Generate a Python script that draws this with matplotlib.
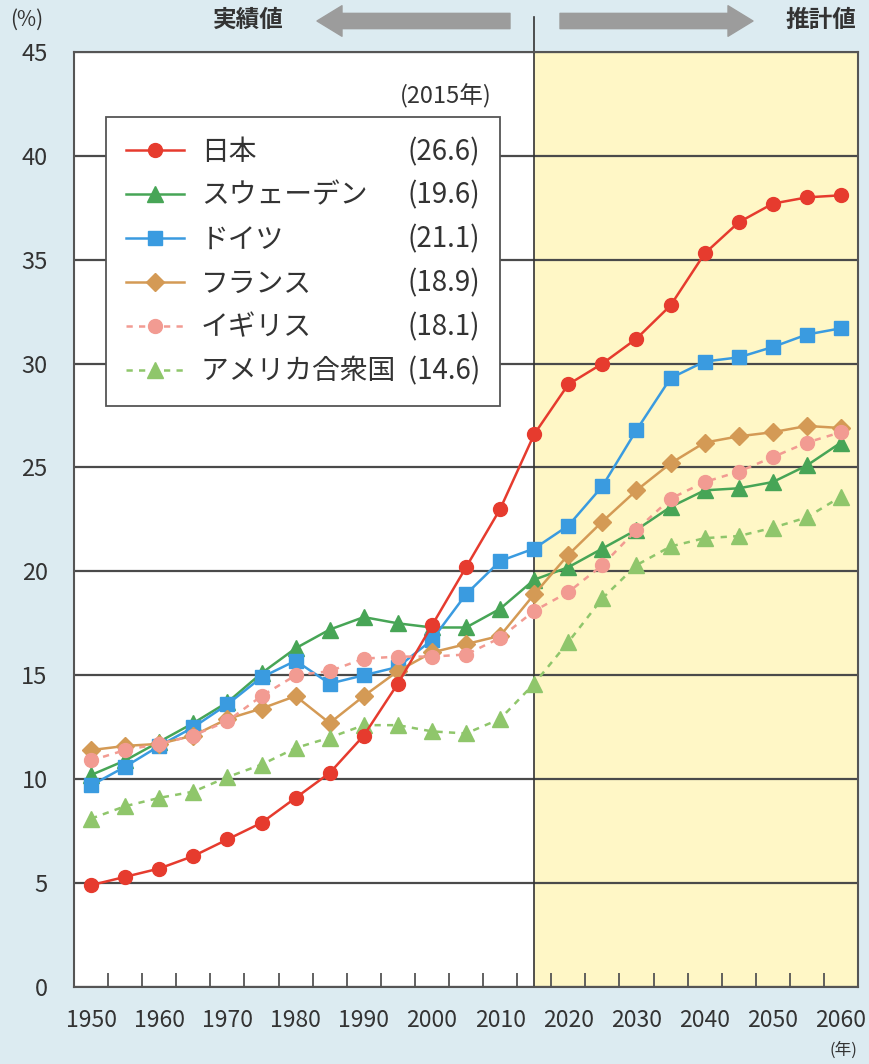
"""Elderly population ratio (65+) by country, 1950-2060, actual vs. projected."""

import matplotlib
matplotlib.use("Agg")
import matplotlib.pyplot as plt
from matplotlib.ticker import FixedLocator, MultipleLocator

plt.rcParams["font.family"] = ["Noto Sans CJK JP", "DejaVu Sans"]

YEARS = list(range(1950, 2061, 5))

JAPAN = [4.9, 5.3, 5.7, 6.3, 7.1, 7.9, 9.1, 10.3, 12.1, 14.6, 17.4, 20.2, 23.0,
         26.6, 29.0, 30.0, 31.2, 32.8, 35.3, 36.8, 37.7, 38.0, 38.1]
SWEDEN = [10.2, 10.9, 11.8, 12.7, 13.7, 15.1, 16.3, 17.2, 17.8, 17.5, 17.3, 17.3, 18.2,
          19.6, 20.2, 21.1, 22.0, 23.1, 23.9, 24.0, 24.3, 25.1, 26.2]
GERMANY = [9.7, 10.6, 11.6, 12.5, 13.6, 14.9, 15.7, 14.6, 15.0, 15.4, 16.7, 18.9, 20.5,
           21.1, 22.2, 24.1, 26.8, 29.3, 30.1, 30.3, 30.8, 31.4, 31.7]
FRANCE = [11.4, 11.6, 11.7, 12.1, 12.9, 13.4, 14.0, 12.7, 14.0, 15.2, 16.1, 16.5, 16.9,
          18.9, 20.8, 22.4, 23.9, 25.2, 26.2, 26.5, 26.7, 27.0, 26.9]
UK = [10.9, 11.4, 11.7, 12.1, 12.8, 14.0, 15.0, 15.2, 15.8, 15.9, 15.9, 16.0, 16.8,
      18.1, 19.0, 20.3, 22.0, 23.5, 24.3, 24.8, 25.5, 26.2, 26.7]
USA = [8.1, 8.7, 9.1, 9.4, 10.1, 10.7, 11.5, 12.0, 12.6, 12.6, 12.3, 12.2, 12.9,
       14.6, 16.6, 18.7, 20.3, 21.2, 21.6, 21.7, 22.1, 22.6, 23.6]

NAMES = ["日本", "スウェーデン", "ドイツ", "フランス", "イギリス", "アメリカ合衆国"]
VALUES_2015 = ["(26.6)", "(19.6)", "(21.1)", "(18.9)", "(18.1)", "(14.6)"]
SPLIT_YEAR = 2015

BG = "#dcebf1"
TXT = "#333333"

fig = plt.figure(figsize=(8.69, 10.64), dpi=100, facecolor=BG)
ax = fig.add_axes([0.0852, 0.0724, 0.9022, 0.8788])
ax.set_facecolor("white")

ax.set_xlim(YEARS[0] - 2.5, YEARS[-1] + 2.5)
ax.set_ylim(0, 45)

# projection period shaded, with a divider running up into the header
ax.axvspan(SPLIT_YEAR, YEARS[-1] + 2.5, color="#fff7c6", zorder=0, lw=0)
ax.plot([SPLIT_YEAR, SPLIT_YEAR], [0, 1.037], transform=ax.get_xaxis_transform(),
        color="#333333", lw=1.2, clip_on=False, zorder=1)

ax.yaxis.set_major_locator(MultipleLocator(5))
ax.grid(axis="y", color="#4a4a4a", lw=1.6, zorder=1)
ax.set_axisbelow(True)

ax.xaxis.set_major_locator(FixedLocator(YEARS[::2]))
ax.xaxis.set_minor_locator(FixedLocator([y + 2.5 for y in YEARS[:-1]]))
ax.tick_params(axis="x", which="major", length=0, pad=16, labelsize=16.5, labelcolor=TXT)
ax.tick_params(axis="x", which="minor", direction="in", length=10, width=1.3, color="#555555")
ax.tick_params(axis="y", length=0, pad=19, labelsize=17, labelcolor=TXT)
for s in ax.spines.values():
    s.set_color("#555555")
    s.set_linewidth(1.5)

series = [
    (JAPAN, "#e63b2e", "o", 10, "-"),
    (SWEDEN, "#47a556", "^", 11.5, "-"),
    (GERMANY, "#3a9be0", "s", 10, "-"),
    (FRANCE, "#d49a55", "D", 9, "-"),
    (UK, "#f29b92", "o", 10, (0, (2.5, 2.5))),
    (USA, "#8fc66b", "^", 11.5, (0, (2.5, 2.5))),
]
handles = []
for (vals, color, marker, ms, ls), name in zip(series, NAMES):
    h, = ax.plot(YEARS, vals, color=color, marker=marker, ms=ms, lw=1.8, ls=ls,
                 mec=color, mfc=color, zorder=3, clip_on=False)
    handles.append(h)

# Japan drawn on top of the others
handles[0].set_zorder(4)

labels = NAMES[:-1] + [NAMES[-1] + "  " + VALUES_2015[-1]]
leg = ax.legend(handles, labels, loc="upper left", bbox_to_anchor=(0.0408, 0.9305),
                borderaxespad=0, fontsize=20, frameon=True, fancybox=False,
                edgecolor="#555555", facecolor="white", framealpha=1,
                handlelength=2.1, handletextpad=0.6, borderpad=0.72,
                labelspacing=0.5)
leg.get_frame().set_linewidth(1.3)
for t in leg.get_texts():
    t.set_color(TXT)

texts = leg.get_texts()
for i, val in enumerate(VALUES_2015[:-1]):
    ax.annotate(val, xy=(1, 0.5), xycoords=(texts[-1], texts[i]), ha="right",
                va="center", fontsize=20, color=TXT, zorder=6)
ax.annotate("(2015年)", xy=(1, 1), xycoords=leg, xytext=(-6, 6),
            textcoords="offset points", ha="right", va="bottom", fontsize=17,
            color=TXT, zorder=6)

# header: unit, arrows, period labels
fig.text(10 / 869, 1 - 20 / 1064, "(%)", fontsize=15, color=TXT, va="center")
fig.text(248 / 869, 1 - 20 / 1064, "実績値", fontsize=17, color=TXT, va="center",
         ha="center", fontweight="bold")
fig.text(821 / 869, 1 - 20 / 1064, "推計値", fontsize=17, color=TXT, va="center",
         ha="center", fontweight="bold")
fig.text(843 / 869, 1 - 1050 / 1064, "(年)", fontsize=12, color=TXT, va="center",
         ha="center")

arrow = dict(arrowstyle="simple,head_length=0.9,head_width=1.1,tail_width=0.55",
             color="#9c9c9c", mutation_scale=20, shrinkA=0, shrinkB=0)
ax.annotate("", xy=(317, 1043), xytext=(510, 1043), xycoords="figure pixels",
            textcoords="figure pixels", arrowprops=arrow)
ax.annotate("", xy=(753, 1043), xytext=(560, 1043), xycoords="figure pixels",
            textcoords="figure pixels", arrowprops=arrow)

fig.canvas.draw()
fig.savefig("out.png", dpi=100, facecolor=BG)
